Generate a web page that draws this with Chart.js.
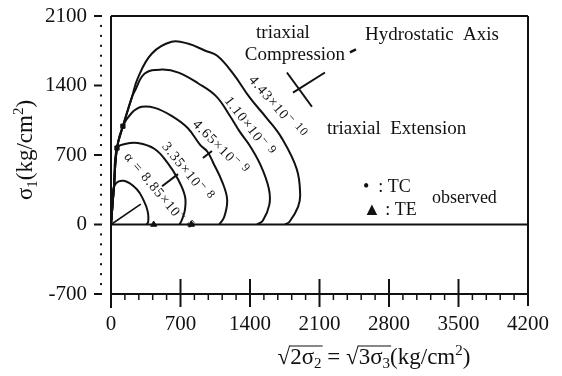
<!DOCTYPE html>
<html>
<head>
<meta charset="utf-8">
<script src="https://cdn.jsdelivr.net/npm/chart.js@4.4.0/dist/chart.umd.min.js"></script>
<style>
  html, body { margin: 0; padding: 0; background: #fff; }
  canvas { display: block; }
</style>
</head>
<body>
<canvas id="yieldChart" width="562" height="376"></canvas>
<script>
// Yield loci, one per creep rate, as [x, sigma1] pairs in kg/cm2
var locus443e10 = [[0, 0], [30, 385], [60, 770], [120, 990], [210, 1280], [270, 1475], [410, 1720], [610, 1840], [780, 1820], [950, 1750], [1070, 1700], [1230, 1520], [1400, 1275], [1570, 1070], [1720, 870], [1870, 560], [1905, 310], [1885, 180], [1800, 30], [1750, 0]];
var locus110e9 = [[0, 0], [30, 385], [60, 770], [120, 990], [210, 1280], [240, 1345], [340, 1520], [510, 1560], [680, 1530], [880, 1420], [1060, 1290], [1200, 1090], [1300, 930], [1400, 790], [1510, 590], [1590, 360], [1595, 200], [1530, 40], [1470, 0]];
var locus465e9 = [[0, 0], [30, 385], [60, 770], [120, 990], [210, 1125], [310, 1185], [440, 1175], [610, 1095], [770, 975], [900, 800], [970, 735], [1030, 620], [1120, 430], [1170, 250], [1140, 75], [1090, 0]];
var locus335e8 = [[0, 0], [30, 385], [60, 770], [140, 810], [270, 820], [440, 760], [570, 620], [675, 455], [745, 285], [745, 150], [715, 50], [690, 0]];
var locus885e8 = [[0, 0], [10, 200], [40, 400], [130, 440], [260, 355], [330, 240], [370, 130], [375, 30], [360, 0]];

// straight loading path inside the smallest locus
var loadingPath = [[0, 0], [300, 205]];

// observed failure points
var tcObserved = [[60, 770], [120, 990]];
var teObserved = [[430, 0], [810, 0]];

// small marks: hydrostatic axis cross and path ticks
var hydroAxisA = [[1772, 1531], [2024, 1186]];
var hydroAxisB = [[1833, 1328], [2155, 1531]];
var compressionDash = [[2407, 1734], [2467, 1764]];
var tick335 = [[514, 385], [675, 507]];
var tick465 = [[926, 669], [1017, 740]];

// rate labels on the loci
var rateMantissa = ['4.43×10', '1.10×10', '4.65×10', '3.35×10', 'α = 8.85×10'];
var rateExponent = ['− 10', '− 9', '− 9', '− 8', '− 8'];

var xTicks = [0, 700, 1400, 2100, 2800, 3500, 4200];
var yTicks = [-700, 0, 700, 1400, 2100];

var ink = '#111';
var serif = '"Liberation Serif", "DejaVu Serif", serif';

// where each rate label sits (data units) and its slant in degrees
var labelAnchors = [
    { x: 1672, y: 1176, angle: 49 },
    { x: 1390, y: 984, angle: 52 },
    { x: 1098, y: 771, angle: 45 },
    { x: 765, y: 527, angle: 51 },
    { x: 473, y: 324, angle: 50 }
];

function toPoints(pairs) {
    return pairs.map(function (p) { return { x: p[0], y: p[1] }; });
}

function lineSet(pairs, width, tension) {
    return {
        data: toPoints(pairs),
        showLine: true,
        borderColor: ink,
        borderWidth: width,
        pointRadius: 0,
        tension: tension,
        fill: false
    };
}

// draws a run of text pieces with their own size / vertical offset
function drawParts(ctx, parts, x, y, align) {
    var total = 0;
    parts.forEach(function (p) {
        ctx.font = p.size + 'px ' + serif;
        p.w = ctx.measureText(p.text).width;
        total += p.w;
    });
    var cx = align === 'center' ? x - total / 2 : x;
    var barStart = null;
    parts.forEach(function (p, i) {
        ctx.font = p.size + 'px ' + serif;
        ctx.fillText(p.text, cx, y + (p.dy || 0));
        if (p.bar && barStart === null) barStart = cx;
        cx += p.w;
        if (p.bar && !(parts[i + 1] && parts[i + 1].bar)) {
            ctx.beginPath();
            ctx.lineWidth = 1.2;
            ctx.moveTo(barStart - 1, y - 18);
            ctx.lineTo(cx + 1, y - 18);
            ctx.stroke();
            barStart = null;
        }
    });
}

var decorations = {
    id: 'decorations',
    afterDraw: function (chart) {
        var ctx = chart.ctx;
        var xs = chart.scales.x, ys = chart.scales.y, area = chart.chartArea;
        var X = function (v) { return xs.getPixelForValue(v); };
        var Y = function (v) { return ys.getPixelForValue(v); };

        function seg(x1, y1, x2, y2, w) {
            ctx.beginPath();
            ctx.lineWidth = w || 2;
            ctx.moveTo(x1, y1);
            ctx.lineTo(x2, y2);
            ctx.stroke();
        }

        ctx.save();
        ctx.strokeStyle = ink;
        ctx.fillStyle = ink;

        // frame, zero line
        seg(area.left, area.top, area.left, area.bottom + 14);
        seg(area.left, area.top, area.right, area.top);
        seg(area.right, area.top, area.right, area.bottom + 12);
        seg(area.left, area.bottom, area.right, area.bottom);
        seg(area.left, Y(0), area.right, Y(0));

        // y ticks: dashes at majors, dots every 100
        yTicks.forEach(function (v) { seg(area.left - 17, Y(v), area.left - 9, Y(v)); });
        for (var v = -700; v <= 2100; v += 100) {
            if (v % 700 !== 0) ctx.fillRect(area.left - 11, Y(v) - 1, 2, 2);
        }

        // x ticks: long crossing majors, short minors every 140
        xTicks.forEach(function (v) {
            if (v > 0 && v < 4200) seg(X(v), area.bottom - 15, X(v), area.bottom + 13);
        });
        for (var u = 140; u < 4200; u += 140) {
            if (u % 700 !== 0) seg(X(u), area.bottom, X(u), area.bottom + 6, 1.5);
        }

        // rate labels along the loci
        ctx.textBaseline = 'middle';
        ctx.letterSpacing = '1px';
        labelAnchors.forEach(function (a, i) {
            ctx.save();
            ctx.translate(X(a.x), Y(a.y));
            ctx.rotate(a.angle * Math.PI / 180);
            drawParts(ctx, [
                { text: rateMantissa[i], size: 14 },
                { text: rateExponent[i], size: 12, dy: -4 }
            ], 0, 0, 'center');
            ctx.restore();
        });
        ctx.letterSpacing = '0px';

        // annotations
        ctx.font = '19px ' + serif;
        ctx.textAlign = 'center';
        ctx.fillText('triaxial', X(1732), Y(1927));
        ctx.fillText('Compression', X(1853), Y(1703));
        ctx.textAlign = 'left';
        ctx.fillText('Hydrostatic  Axis', X(2558), Y(1906));
        ctx.fillText('triaxial  Extension', X(2175), Y(963));
        ctx.font = '18px ' + serif;
        ctx.fillText('•  : TC', X(2538), Y(375));
        ctx.fillText('▲ : TE', X(2538), Y(142));
        ctx.fillText('observed', X(3232), Y(264));

        // axis titles
        ctx.textBaseline = 'alphabetic';
        drawParts(ctx, [
            { text: '√', size: 23 },
            { text: '2σ', size: 23, bar: true },
            { text: '2', size: 15, dy: 4, bar: true },
            { text: ' = ', size: 23 },
            { text: '√', size: 23 },
            { text: '3σ', size: 23, bar: true },
            { text: '3', size: 15, dy: 4, bar: true },
            { text: '(kg/cm', size: 23 },
            { text: '2', size: 15, dy: -9 },
            { text: ')', size: 23 }
        ], 374, 364, 'center');

        ctx.save();
        ctx.translate(32, 150);
        ctx.rotate(-Math.PI / 2);
        drawParts(ctx, [
            { text: 'σ', size: 23 },
            { text: '1', size: 15, dy: 5 },
            { text: '(kg/cm', size: 23 },
            { text: '2', size: 15, dy: -9 },
            { text: ')', size: 23 }
        ], 0, 0, 'center');
        ctx.restore();

        ctx.restore();
    }
};

// keep the tick label padding from pushing the plot area inwards
function noEdgePadding(axis) {
    axis.paddingTop = 0;
    axis.paddingBottom = 0;
    axis.paddingLeft = 0;
    axis.paddingRight = 0;
}

document.addEventListener('DOMContentLoaded', function () {
    Chart.defaults.font.family = serif;
    Chart.defaults.color = ink;

    var datasets = [
        lineSet(locus443e10, 2, 0.4),
        lineSet(locus110e9, 2, 0.4),
        lineSet(locus465e9, 2, 0.4),
        lineSet(locus335e8, 2, 0.4),
        lineSet(locus885e8, 2, 0.4),
        lineSet(loadingPath, 1.6, 0),
        lineSet(hydroAxisA, 2, 0),
        lineSet(hydroAxisB, 2, 0),
        lineSet(compressionDash, 2.5, 0),
        lineSet(tick335, 2, 0),
        lineSet(tick465, 2, 0),
        {
            data: toPoints(tcObserved),
            pointStyle: 'rect',
            pointRadius: 3,
            backgroundColor: ink,
            borderColor: ink
        },
        {
            data: toPoints(teObserved),
            pointStyle: 'triangle',
            pointRadius: 3.5,
            backgroundColor: ink,
            borderColor: ink
        }
    ];

    new Chart(document.getElementById('yieldChart'), {
        type: 'scatter',
        data: { datasets: datasets },
        plugins: [decorations],
        options: {
            responsive: false,
            animation: false,
            devicePixelRatio: 1,
            layout: { padding: { top: 16, right: 34, left: 0, bottom: 0 } },
            plugins: { legend: { display: false }, tooltip: { enabled: false } },
            scales: {
                x: {
                    type: 'linear',
                    min: 0,
                    max: 4200,
                    afterBuildTicks: function (axis) {
                        axis.ticks = xTicks.map(function (v) { return { value: v }; });
                    },
                    afterFit: function (axis) { axis.height = 82; noEdgePadding(axis); },
                    grid: { display: false, drawTicks: false },
                    border: { display: false },
                    ticks: {
                        font: { size: 21 }, padding: 18, maxRotation: 0, autoSkip: false,
                        callback: function (v) { return String(v); }
                    }
                },
                y: {
                    type: 'linear',
                    min: -700,
                    max: 2100,
                    afterBuildTicks: function (axis) {
                        axis.ticks = yTicks.map(function (v) { return { value: v }; });
                    },
                    afterFit: function (axis) { axis.width = 111; noEdgePadding(axis); },
                    grid: { display: false, drawTicks: false },
                    border: { display: false },
                    ticks: {
                        font: { size: 21 }, padding: 24, autoSkip: false,
                        callback: function (v) { return String(v); }
                    }
                }
            }
        }
    });
});
</script>
</body>
</html>
